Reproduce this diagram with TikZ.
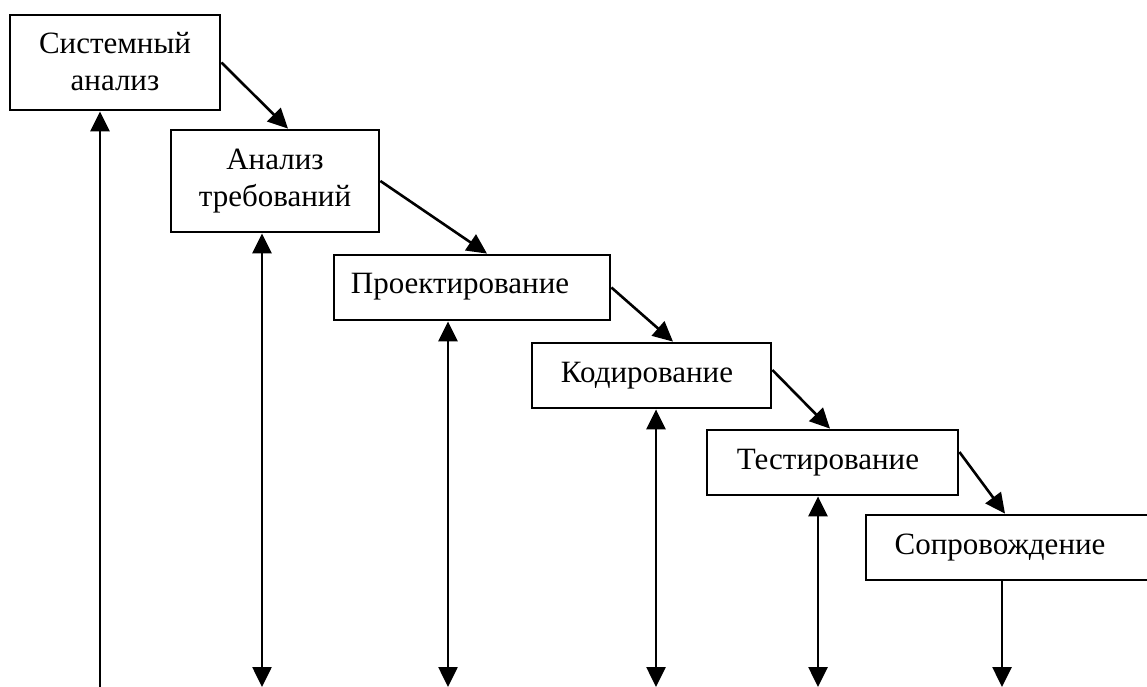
\documentclass[tikz,border=0pt]{standalone}
\usepackage{fontspec}
\setmainfont{Liberation Serif}
\usetikzlibrary{arrows.meta}
\begin{document}
\begin{tikzpicture}[x=1pt,y=-1pt,
  box/.style={draw=black, line width=2.8pt, fill=white, inner sep=0pt},
  lbl/.style={font=\fontsize{31}{37}\selectfont, align=center, inner sep=0pt},
  conn/.style={line width=2.6pt, -{Triangle[width=19pt,length=20pt]}},
  both/.style={line width=2.6pt, {Triangle[width=19pt,length=20pt]}-{Triangle[width=19pt,length=20pt]}}
  ]
\useasboundingbox[fill=white] (0,0) rectangle (1147,687);
\begin{scope}
\clip (0,0) rectangle (1147,687);
\node[box, minimum width=210pt, minimum height=95pt] (b1) at (115,62.5) {};
\node[box, minimum width=208pt, minimum height=102pt] (b2) at (275,181) {};
\node[box, minimum width=276pt, minimum height=65pt] (b3) at (472,287.5) {};
\node[box, minimum width=239pt, minimum height=65pt] (b4) at (651.5,375.5) {};
\node[box, minimum width=251pt, minimum height=65pt] (b5) at (832.5,462.5) {};
\node[box, minimum width=304pt, minimum height=65pt] (b6) at (1018,547.5) {};
\end{scope}
\node[lbl] (t1) at (115,62) {Системный\\анализ};
\node[lbl] (t2) at (275,181) {Анализ\\требований};
\node[lbl] (t3) at (460,287) {Проектирование};
\node[lbl] (t4) at (647,376) {Кодирование};
\node[lbl] (t5) at (828,463) {Тестирование};
\node[lbl] (t6) at (1000,548) {Сопровождение};

\draw[conn] (b1.east) -- (b2.north -| 288,0);
\draw[conn] (b2.east) -- (b3.north -| 487,0);
\draw[conn] (b3.east) -- (b4.north -| 673,0);
\draw[conn] (b4.east |- 0,370) -- (b5.north -| 830,0);
\draw[conn] (b5.east |- 0,452) -- (b6.north -| 1005,0);

\coordinate (e1) at (100,687);
\coordinate (e2) at (262,687);
\coordinate (e3) at (448,687);
\coordinate (e4) at (656,687);
\coordinate (e5) at (818,687);
\coordinate (e6) at (1002,687);
\draw[conn] (e1) -- (b1.south -| e1);
\draw[both] (b2.south -| e2) -- (e2);
\draw[both] (b3.south -| e3) -- (e3);
\draw[both] (b4.south -| e4) -- (e4);
\draw[both] (b5.south -| e5) -- (e5);
\draw[conn] (b6.south -| e6) -- (e6);
\end{tikzpicture}
\end{document}
